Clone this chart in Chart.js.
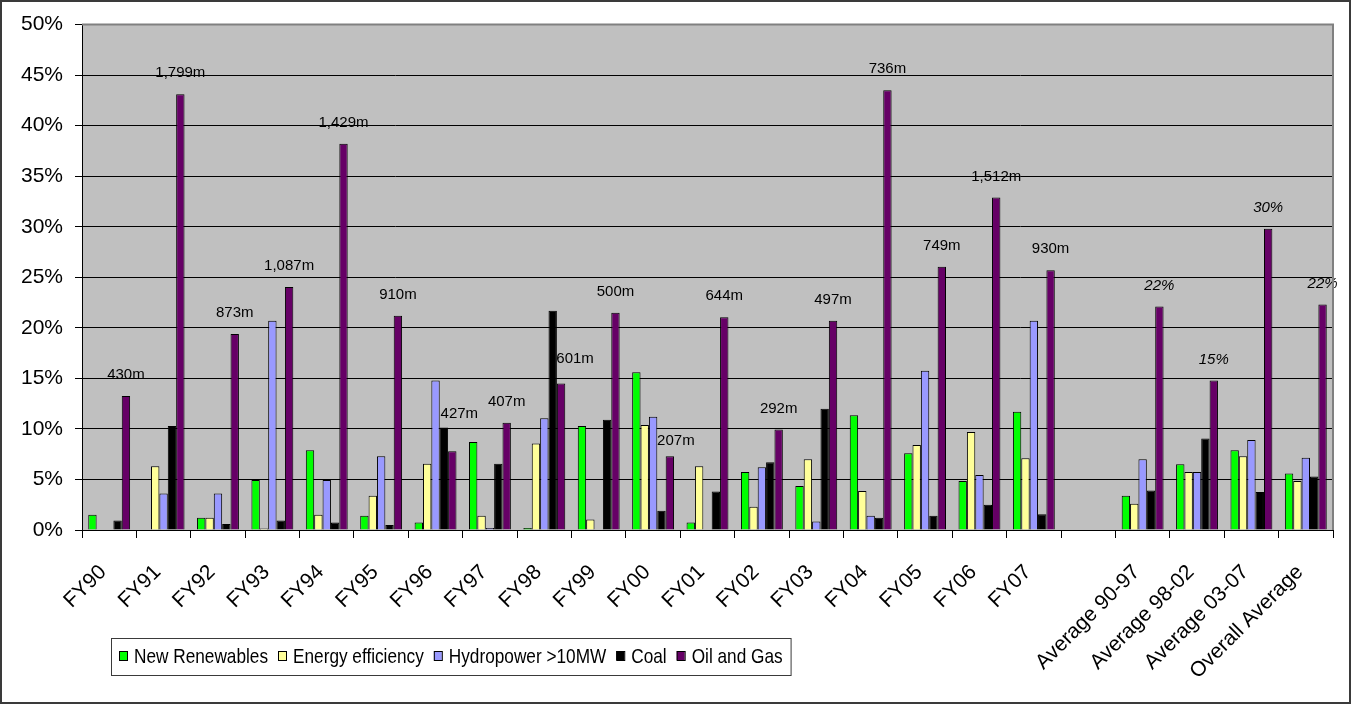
<!DOCTYPE html>
<html>
<head>
<meta charset="utf-8">
<script src="https://cdn.jsdelivr.net/npm/chart.js@4.4.1/dist/chart.umd.min.js"></script>
<style>
  html, body { margin: 0; padding: 0; background: #ffffff; }
  canvas { display: block; }
</style>
</head>
<body>
<canvas id="chart" width="1351" height="704"></canvas>
<script>
// Share of energy lending by sector, per fiscal year and period averages (%)
const categories = [
  'FY90', 'FY91', 'FY92', 'FY93', 'FY94', 'FY95', 'FY96', 'FY97', 'FY98',
  'FY99', 'FY00', 'FY01', 'FY02', 'FY03', 'FY04', 'FY05', 'FY06', 'FY07',
  '', 'Average 90-97', 'Average 98-02', 'Average 03-07', 'Overall Average'
];

const seriesNames = ['New Renewables', 'Energy efficiency', 'Hydropower >10MW', 'Coal', 'Oil and Gas'];

const newRenewables    = [1.5, 0, 1.2, 4.95, 7.9, 1.4, 0.75, 8.7, 0.2, 10.3, 15.6, 0.75, 5.75, 4.35, 11.35, 7.6, 4.85, 11.7, null, 3.4, 6.5, 7.9, 5.6];
const energyEfficiency = [0, 6.3, 1.2, 0.15, 1.5, 3.4, 6.55, 1.4, 8.55, 1.05, 10.4, 6.3, 2.3, 7.0, 3.85, 8.4, 9.7, 7.1, null, 2.6, 5.75, 7.3, 4.85];
const hydropower       = [0, 3.6, 3.6, 20.7, 4.95, 7.3, 14.8, 0.2, 11.05, 0, 11.2, 0, 6.2, 0.85, 1.4, 15.75, 5.45, 20.7, null, 7.0, 5.75, 8.9, 7.15];
const coal             = [0.95, 10.3, 0.6, 0.95, 0.75, 0.5, 10.15, 6.55, 21.7, 10.9, 1.9, 3.8, 6.7, 12.0, 1.2, 1.4, 2.5, 1.55, null, 3.9, 9.05, 3.75, 5.3];
const oilAndGas        = [13.25, 43.1, 19.4, 24.05, 38.2, 21.2, 7.8, 10.6, 14.5, 21.5, 7.3, 21.05, 9.95, 20.7, 43.5, 26.05, 32.9, 25.7, null, 22.1, 14.8, 29.8, 22.3];

// Total energy lending per fiscal year, US$ millions
const totalLendingM = [430, 1799, 873, 1087, 1429, 910, 427, 407, 601, 500, 207, 644, 292, 497, 736, 749, 1512, 930];

const yTickValues = [0, 5, 10, 15, 20, 25, 30, 35, 40, 45, 50];

const seriesColors = ['#00ff00', '#ffff99', '#9999ff', '#000000', '#660066'];
const seriesValues = [newRenewables, energyEfficiency, hydropower, coal, oilAndGas];

const FONT = '"Liberation Sans", Arial, sans-serif';

// Gray plot background, chart frame and plot-area border
const framePlugin = {
  id: 'frame',
  beforeDraw(chart) {
    const { ctx, chartArea: a } = chart;
    ctx.save();
    ctx.fillStyle = '#ffffff';
    ctx.fillRect(0, 0, chart.width, chart.height);
    ctx.fillStyle = '#c0c0c0';
    ctx.fillRect(a.left, a.top, a.right - a.left, a.bottom - a.top);
    ctx.restore();
  },
  afterDraw(chart) {
    const { ctx, chartArea: a } = chart;
    ctx.save();
    ctx.strokeStyle = '#808080';
    ctx.lineWidth = 2;
    ctx.beginPath();
    ctx.moveTo(a.left, a.top);
    ctx.lineTo(a.right, a.top);
    ctx.lineTo(a.right, a.bottom);
    ctx.stroke();
    ctx.strokeStyle = '#3a3a3a';
    ctx.lineWidth = 2;
    ctx.strokeRect(1, 1, chart.width - 2, chart.height - 2);
    ctx.restore();
  }
};

// Totals above each year's oil-and-gas bar; rounded shares above the averages
const valueLabelPlugin = {
  id: 'valueLabels',
  afterDatasetsDraw(chart, args, opts) {
    const { ctx } = chart;
    const meta = chart.getDatasetMeta(4);
    ctx.save();
    ctx.fillStyle = '#000000';
    ctx.textAlign = 'center';
    ctx.textBaseline = 'middle';
    meta.data.forEach((bar, i) => {
      const v = oilAndGas[i];
      if (v == null) return;
      let text;
      if (i < totalLendingM.length) {
        text = totalLendingM[i].toLocaleString('en-US') + 'm';
        ctx.font = '15px ' + FONT;
      } else {
        text = Math.round(v) + '%';
        ctx.font = 'italic 15px ' + FONT;
      }
      const n = opts.nudge[i] || [0, 0];
      ctx.fillText(text, bar.x + n[0], bar.y - opts.lift + n[1]);
    });
    ctx.restore();
  }
};

// Boxed single-row legend under the year labels
const boxLegendPlugin = {
  id: 'boxLegend',
  afterDraw(chart, args, opts) {
    const { ctx } = chart;
    const left = opts.left, top = opts.top, bottom = opts.bottom;
    const sw = 8, sh = 9;
    ctx.save();
    ctx.font = '21px ' + FONT;
    ctx.textBaseline = 'alphabetic';
    let x = left + 8;
    const midY = (top + bottom) / 2;
    chart.data.datasets.forEach(ds => {
      ctx.fillStyle = ds.backgroundColor;
      ctx.fillRect(x, Math.round(midY - sh / 2) - 1, sw, sh);
      ctx.strokeStyle = '#000000';
      ctx.lineWidth = 1;
      ctx.strokeRect(x + 0.5, Math.round(midY - sh / 2) - 0.5, sw, sh);
      x += sw + 7;
      ctx.save();
      ctx.translate(x, midY + 6);
      ctx.scale(opts.squeeze, 1);
      ctx.fillStyle = '#000000';
      ctx.fillText(ds.label, 0, 0);
      ctx.restore();
      x += ctx.measureText(ds.label).width * opts.squeeze + 10;
    });
    const right = x - 10 + 8;
    ctx.strokeStyle = '#3a3a3a';
    ctx.lineWidth = 1;
    ctx.strokeRect(left + 0.5, top + 0.5, right - left, bottom - top);
    ctx.restore();
  }
};

const chart = new Chart(document.getElementById('chart'), {
  type: 'bar',
  data: {
    labels: categories,
    datasets: seriesNames.map((name, k) => ({
      label: name,
      data: seriesValues[k],
      backgroundColor: seriesColors[k],
      borderColor: '#000000',
      borderWidth: 1,
      borderSkipped: 'bottom',
      categoryPercentage: 0.77,
      barPercentage: 1.0
    }))
  },
  options: {
    responsive: false,
    animation: false,
    devicePixelRatio: 1,
    layout: { padding: { left: 0, top: 22, right: 18, bottom: 0 } },
    plugins: {
      legend: { display: false },
      tooltip: { enabled: false },
      valueLabels: { lift: 21, nudge: { 6: [7, -16], 8: [14, -4], 10: [6, 6] } },
      boxLegend: { left: 111, top: 638, bottom: 675, squeeze: 0.82 }
    },
    scales: {
      x: {
        offset: true,
        grid: {
          offset: true,
          drawOnChartArea: false,
          drawTicks: true,
          tickLength: 8,
          tickColor: '#000000'
        },
        border: { display: true, color: '#000000', width: 1 },
        ticks: {
          autoSkip: false,
          minRotation: 45,
          maxRotation: 45,
          padding: 22,
          labelOffset: -6,
          color: '#000000',
          font: { family: FONT, size: 21 }
        },
        afterFit(scale) { scale.height = 174; }
      },
      y: {
        min: 0,
        max: 50,
        afterBuildTicks(scale) { scale.ticks = yTickValues.map(v => ({ value: v })); },
        grid: {
          color: c => (c.tick && c.tick.value === 50 ? 'rgba(0,0,0,0)' : '#000000'),
          lineWidth: 1,
          tickLength: 7,
          tickColor: '#000000'
        },
        border: { display: true, color: '#000000', width: 1 },
        ticks: {
          padding: 12,
          color: '#000000',
          font: { family: FONT, size: 21 },
          callback: v => v + '%'
        },
        afterFit(scale) { scale.width = 82; }
      }
    }
  },
  plugins: [framePlugin, valueLabelPlugin, boxLegendPlugin]
});
</script>
</body>
</html>
